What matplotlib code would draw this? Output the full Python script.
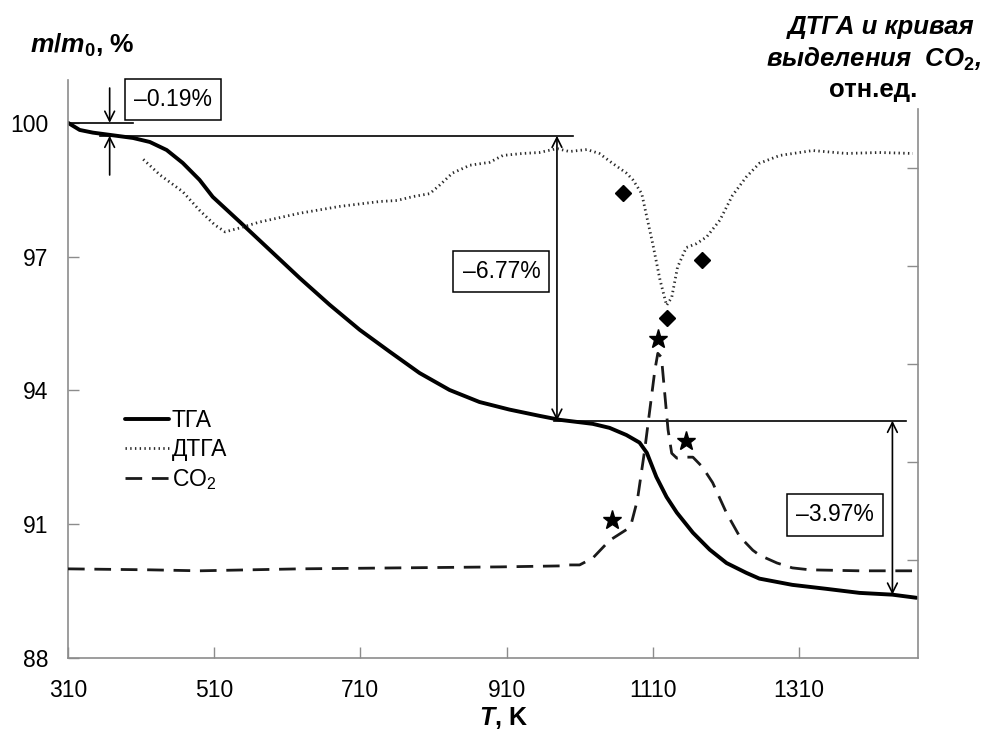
import matplotlib
matplotlib.use("Agg")
import matplotlib.pyplot as plt

plt.rcParams['font.family'] = ['Liberation Sans', 'DejaVu Sans']
plt.rcParams['mathtext.fontset'] = 'custom'
plt.rcParams['mathtext.rm'] = 'Liberation Sans:bold'
plt.rcParams['mathtext.bf'] = 'Liberation Sans:bold'
plt.rcParams['mathtext.it'] = 'Liberation Sans:italic:bold'

# TGA curve, m/m0 in % (left axis)
tga_T = [310, 326, 344, 367, 399, 422, 445, 467, 490, 508, 545, 586, 627, 668,
         709, 750, 791, 832, 873, 914, 955, 983, 1028, 1051, 1074, 1092, 1102,
         1115, 1129, 1143, 1165, 1188, 1211, 1238, 1256, 1301, 1348, 1393, 1438, 1471]
tga_m = [100.0, 99.84, 99.78, 99.73, 99.66, 99.57, 99.39, 99.10, 98.72, 98.34,
         97.78, 97.15, 96.52, 95.92, 95.36, 94.87, 94.39, 94.01, 93.74, 93.57,
         93.43, 93.34, 93.25, 93.16, 93.00, 92.83, 92.60, 92.06, 91.61, 91.26,
         90.81, 90.43, 90.13, 89.91, 89.78, 89.64, 89.55, 89.46, 89.42, 89.35]

# DTGA curve, relative units (right axis)
dtga_T = [413, 436, 467, 490, 511, 525, 545, 572, 627, 682, 737, 760, 782, 805,
          819, 836, 860, 887, 905, 932, 955, 979, 996, 1020, 1037, 1055, 1074,
          1083, 1095, 1102, 1110, 1120, 1129, 1136, 1144, 1156, 1170, 1184, 1202,
          1219, 1238, 1256, 1284, 1329, 1375, 1420, 1466]
dtga_v = [5.09, 4.93, 4.76, 4.57, 4.42, 4.35, 4.39, 4.45, 4.54, 4.61, 4.66, 4.67,
          4.71, 4.74, 4.83, 4.95, 5.03, 5.06, 5.13, 5.15, 5.16, 5.20, 5.17, 5.19,
          5.15, 5.05, 4.95, 4.88, 4.74, 4.50, 4.23, 3.86, 3.60, 3.68, 3.99, 4.19,
          4.23, 4.30, 4.47, 4.72, 4.91, 5.05, 5.13, 5.18, 5.15, 5.16, 5.15]

# CO2 evolution curve, relative units (right axis)
co2_T = [310, 422, 490, 627, 764, 901, 983, 992, 1010, 1028, 1051, 1074, 1081,
         1089, 1099, 1106, 1113, 1117, 1122, 1126, 1131, 1136, 1143, 1151, 1165,
         1178, 1192, 1211, 1229, 1247, 1256, 1280, 1301, 1325, 1393, 1471]
co2_v = [0.91, 0.90, 0.89, 0.91, 0.92, 0.93, 0.94, 0.95, 0.95, 1.02, 1.20, 1.31,
         1.38, 1.61, 2.12, 2.53, 2.94, 3.11, 3.07, 2.74, 2.33, 2.09, 2.04, 2.05,
         2.05, 1.95, 1.79, 1.48, 1.24, 1.10, 1.05, 0.97, 0.92, 0.90, 0.89, 0.89]

# marker points on the DTGA and CO2 curves
diamond_T = [1070, 1178, 1129]
diamond_v = [4.75, 4.06, 3.47]
star_T = [1054, 1117, 1156]
star_v = [1.41, 3.26, 2.21]

x_ticks = [310, 510, 710, 910, 1110, 1310]
y_ticks = [88, 91, 94, 97, 100]

# mass-loss steps
m_start = 100.0
m_step1 = 99.71
m_step2 = 93.32
m_end = 89.42
labels_steps = ['\u20130.19%', '\u20136.77%', '\u20133.97%']

fs = 16.5
grey = '#8c8c8c'

fig = plt.figure(figsize=(9.88, 7.34), dpi=100)
ax = fig.add_axes([68 / 988, 76 / 734, 850 / 988, 578 / 734])
ax2 = ax.twinx()

l1, = ax.plot(tga_T, tga_m, color='black', lw=2.8, solid_capstyle='round')
l2, = ax2.plot(dtga_T, dtga_v, color='#2a2a2a', lw=2.0, linestyle=(0, (0.5, 1.2)))
l3, = ax2.plot(co2_T, co2_v, color='#1a1a1a', lw=2.0, linestyle=(0, (6, 3.5)))
ax2.plot(diamond_T, diamond_v, 'D', color='black', ms=8, zorder=5)
ax2.plot(star_T, star_v, '*', color='black', ms=14, zorder=5)

ax.set_xlim(310, 1473)
ax.set_ylim(88, 100.96)
ax2.set_ylim(0, 5.9)

ax.set_xticks(x_ticks)
ax.set_yticks(y_ticks)
ax2.set_yticks([1, 2, 3, 4, 5])
ax2.set_yticklabels([])

for a in (ax, ax2):
    a.spines['top'].set_visible(False)
    for s in ('left', 'right', 'bottom'):
        a.spines[s].set_color(grey)
        a.spines[s].set_linewidth(1.2)
ax.spines['right'].set_visible(False)
ax2.spines['left'].set_visible(False)
ax2.spines['bottom'].set_visible(False)
ax2.spines['right'].set_bounds(0, 5.6)

ax.tick_params(axis='both', direction='in', length=8, color=grey, width=1,
               labelsize=fs)
ax.tick_params(axis='x', pad=15)
ax.tick_params(axis='y', pad=14)
ax2.tick_params(axis='y', direction='in', length=8, color=grey, width=1)

# step lines and arrows
ax.plot([310, 399], [m_start, m_start], color='black', lw=1.2)
ax.plot([354, 1001], [m_step1, m_step1], color='black', lw=1.2)
ax.plot([975, 1457], [m_step2, m_step2], color='black', lw=1.2)

head = dict(color='black', lw=1.2, shrinkA=0, shrinkB=0)
ax.annotate('', xy=(367, m_start), xytext=(367, 100.78),
            arrowprops=dict(arrowstyle='->,head_length=0.7,head_width=0.35', **head))
ax.annotate('', xy=(367, m_step1), xytext=(367, 98.83),
            arrowprops=dict(arrowstyle='->,head_length=0.7,head_width=0.35', **head))
ax.annotate('', xy=(979, m_step1), xytext=(979, m_step2),
            arrowprops=dict(arrowstyle='<->,head_length=0.7,head_width=0.35', **head))
ax.annotate('', xy=(1438, m_step2), xytext=(1438, m_end),
            arrowprops=dict(arrowstyle='<->,head_length=0.7,head_width=0.35', **head))

box = dict(boxstyle='square,pad=0.4', fc='white', ec='black', lw=1.1)
ax.text(454, 100.52, labels_steps[0], fontsize=fs, ha='center', va='center', bbox=box)
ax.text(903, 96.66, labels_steps[1], fontsize=fs, ha='center', va='center', bbox=box)
ax.text(1359, 91.21, labels_steps[2], fontsize=fs, ha='center', va='center', bbox=box)

# legend
ax.legend([l1, l2, l3], ['ТГА', 'ДТГА', r'CO$_\mathregular{2}$'], loc='upper left',
          bbox_to_anchor=(57 / 850, (658 - 409) / 578), frameon=False,
          fontsize=fs, handlelength=1.9, handletextpad=0.15, labelspacing=0.26,
          borderaxespad=0, borderpad=0)

# axis titles
fig.text(30 / 988, 1 - 45 / 734, r'$m/m_0$, %', fontsize=19, fontweight='bold',
         ha='left', va='center')
fig.text(503 / 988, 1 - 718 / 734, r'$T$, K', fontsize=18, fontweight='bold',
         ha='center', va='center')
fig.text(881 / 988, 1 - 27 / 734, 'ДТГА и кривая', fontsize=18.5, fontweight='bold',
         style='italic', ha='center', va='center')
fig.text(874 / 988, 1 - 59 / 734, r'выделения  CO$_\mathit{2}$,', fontsize=18.5,
         fontweight='bold', style='italic', ha='center', va='center')
fig.text(873 / 988, 1 - 90 / 734, 'отн.ед.', fontsize=18.5, fontweight='bold',
         ha='center', va='center')

fig.savefig('out.png', dpi=100)
